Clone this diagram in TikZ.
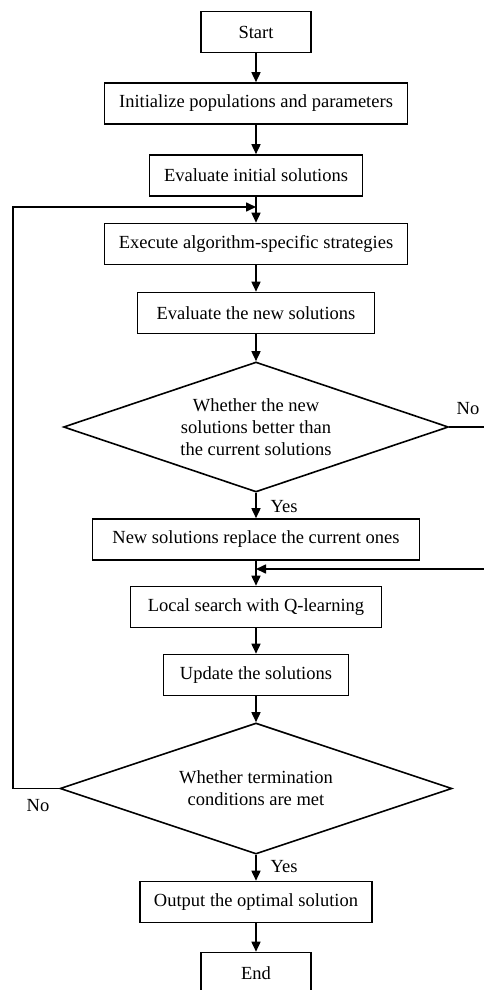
\documentclass[tikz,border=0pt]{standalone}
\usepackage{fontspec}
\setmainfont{Liberation Serif}
\usetikzlibrary{shapes.geometric,arrows.meta}
\pgfdeclarelayer{bg}
\pgfsetlayers{bg,main}
\tikzset{
    every node/.style={inner sep=0pt, font=\fontsize{18.5}{22}\selectfont},
    box/.style={rectangle, draw, line width=1.6pt, minimum height=41pt},
    dec/.style={diamond, draw, line width=1.6pt, align=center, aspect=2.96},
    arr/.style={line width=1.6pt, -{Triangle[length=10pt,width=9pt]}},
    lbl/.style={draw=none}
}

\begin{document}
\begin{tikzpicture}[x=1pt, y=1pt]
    \useasboundingbox (0,0) rectangle (484,-990);

    \node (start) [box, minimum width=110pt] at (256, -32) {Start};
    \node (init) [box, minimum width=303pt] at (256, -103.5) {Initialize populations and parameters};
    \node (evalinit) [box, minimum width=213pt] at (256, -175.5) {Evaluate initial solutions};
    \node (exec) [box, minimum width=303pt] at (256, -244) {Execute algorithm-specific strategies};
    \node (evalnew) [box, minimum width=237pt] at (256, -313) {Evaluate the new solutions};
    \node (dec1) [dec, minimum width=385pt, minimum height=130pt] at (256, -427)
        {Whether the new\\solutions better than\\the current solutions};
    \node (replace) [box, minimum width=327pt] at (256, -539.5) {New solutions replace the current ones};
    \node (local) [box, minimum width=251pt] at (256, -607) {Local search with Q-learning};
    \node (update) [box, minimum width=185pt] at (256, -675) {Update the solutions};
    \node (dec2) [dec, minimum width=392pt, minimum height=131pt] at (256, -788.5)
        {Whether termination\\conditions are met};
    \node (output) [box, minimum width=232pt] at (256, -902) {Output the optimal solution};
    \node (end) [box, minimum width=110pt] at (256, -973) {End};

    \node (no1) [lbl] at (468, -409) {No};
    \node (yes1) [lbl] at (284, -507) {Yes};
    \node (no2) [lbl] at (38, -806) {No};
    \node (yes2) [lbl] at (284, -867) {Yes};

    \coordinate (j1) at (256, -207);
    \coordinate (j2) at (256, -569);
    \coordinate (nol) at (13, -788.5);
    \coordinate (nor) at (494, -427);

    \begin{pgfonlayer}{bg}
        \draw[arr] (start) -- (init);
        \draw[arr] (init) -- (evalinit);
        \draw[arr] (evalinit) -- (exec);
        \draw[arr] (exec) -- (evalnew);
        \draw[arr] (evalnew) -- (dec1);
        \draw[arr] (dec1) -- (replace);
        \draw[arr] (replace) -- (local);
        \draw[arr] (local) -- (update);
        \draw[arr] (update) -- (dec2);
        \draw[arr] (dec2) -- (output);
        \draw[arr] (output) -- (end);

        \draw[arr] (dec2.west) -- (nol) |- (j1);
        \draw[arr] (dec1.east) -- (nor) |- (j2);
    \end{pgfonlayer}
\end{tikzpicture}
\end{document}
